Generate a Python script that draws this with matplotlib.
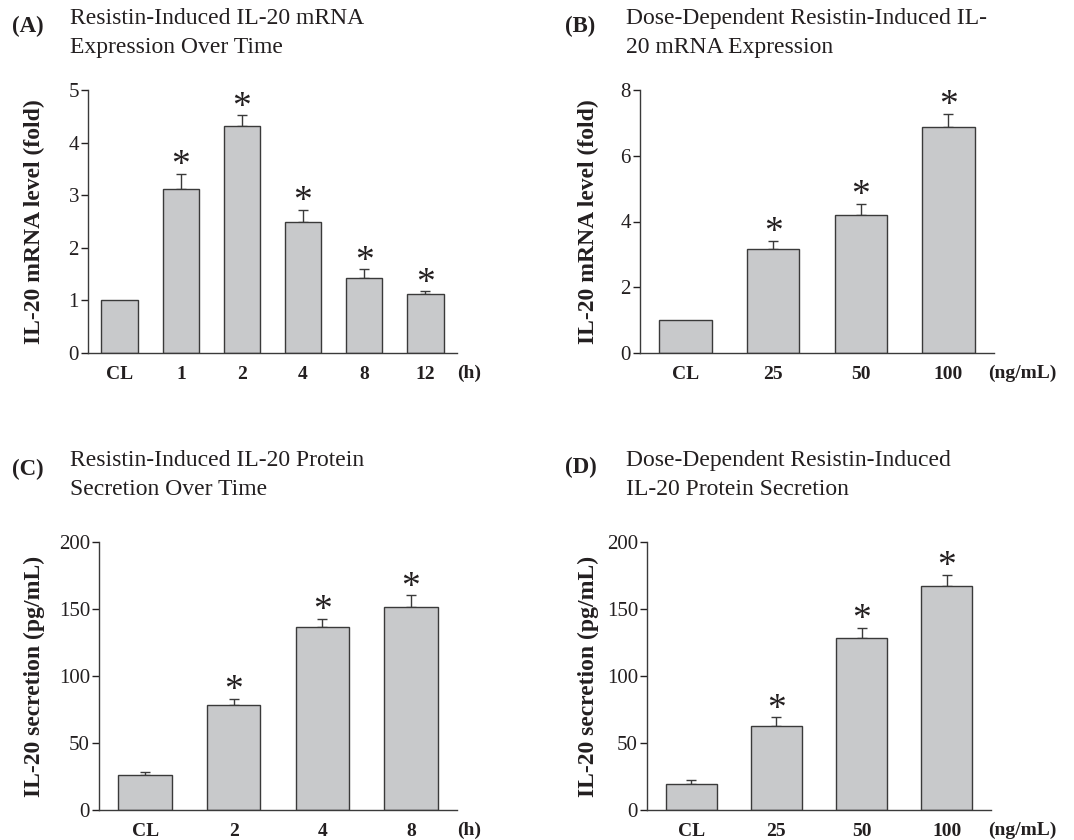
import matplotlib
matplotlib.use("Agg")
import matplotlib.pyplot as plt
import numpy as np

plt.rcParams["font.family"] = ["Liberation Serif", "DejaVu Serif"]
INK = "#231f20"

# --- data ---
a_labels = ["CL", "1", "2", "4", "8", "12"]
a_mean = [1.0, 3.11, 4.31, 2.50, 1.43, 1.12]
a_err = [0.0, 0.30, 0.21, 0.22, 0.16, 0.05]
a_sig = [False, True, True, True, True, True]

b_labels = ["CL", "25", "50", "100"]
b_mean = [1.0, 3.15, 4.21, 6.88]
b_err = [0.0, 0.26, 0.32, 0.40]
b_sig = [False, True, True, True]

c_labels = ["CL", "2", "4", "8"]
c_mean = [25.8, 78.7, 136.9, 151.6]
c_err = [2.8, 4.5, 5.7, 8.6]
c_sig = [False, True, True, True]

d_labels = ["CL", "25", "50", "100"]
d_mean = [19.6, 62.9, 128.0, 167.5]
d_err = [2.5, 6.2, 8.1, 8.2]
d_sig = [False, True, True, True]

W, H = 1074, 840
fig = plt.figure(figsize=(W / 100, H / 100), dpi=100)


def px(x, y):
    return x / W, 1 - y / H


def panel(rect, labels, mean, err, sig, ymax, step, letter, title, ylabel, unit,
          letter_xy, title_xy, ylab_x, unit_x):
    l, t, r, b = rect
    ax = fig.add_axes([l / W, 1 - b / H, (r - l) / W, (b - t) / H])
    x = np.arange(len(labels))
    ax.bar(x, mean, width=0.6, color="#c8c9cb", edgecolor="#3a3a3a", linewidth=1.0, zorder=2)
    for xi, m, e, s in zip(x, mean, err, sig):
        if e > 0:
            ax.errorbar(xi, m, yerr=[[0], [e]], fmt="none", ecolor="#3a3a3a",
                        elinewidth=1.0, capsize=3.5, capthick=1.0, zorder=1)
        if s:
            ax.annotate("*", (xi, m + e), xytext=(0, -1), textcoords="offset points",
                        ha="center", va="baseline", fontsize=27, color=INK)
    ax.set_xlim(-0.52, len(labels) - 0.48)
    ax.set_ylim(0, ymax)
    ax.set_yticks(np.arange(0, ymax + step / 2, step))
    ax.set_xticks(x)
    ax.set_xticklabels(labels, fontweight="bold", fontsize=14, color=INK)
    ax.tick_params(axis="x", length=0, pad=9)
    ax.tick_params(axis="y", length=5, width=1, pad=1.5, labelsize=15, colors=INK,
                   direction="out")
    for sp in ("top", "right"):
        ax.spines[sp].set_visible(False)
    for sp in ("left", "bottom"):
        ax.spines[sp].set_color("#3a3a3a")
        ax.spines[sp].set_linewidth(1.0)

    fig.text(*px(*letter_xy), letter, fontsize=16.5, fontweight="bold", va="center", color=INK)
    fig.text(*px(*title_xy), title, fontsize=17, va="center", linespacing=1.45, color=INK)
    fig.text(*px(ylab_x, (t + b) / 2), ylabel, rotation=90, fontsize=17, fontweight="bold",
             ha="center", va="center", color=INK)
    fig.text(*px(unit_x, b + 20), unit, fontsize=14, fontweight="bold", ha="center",
             va="center", color=INK)


panel((88, 90, 457, 353), a_labels, a_mean, a_err, a_sig, 5, 1, "(A)",
      "Resistin-Induced IL-20 mRNA\nExpression Over Time", "IL-20 mRNA level (fold)", "(h)",
      (12, 26), (70, 33), 34, 469)
panel((640, 90, 994, 353), b_labels, b_mean, b_err, b_sig, 8, 2, "(B)",
      "Dose-Dependent Resistin-Induced IL-\n20 mRNA Expression", "IL-20 mRNA level (fold)", "(ng/mL)",
      (565, 26), (626, 33), 588, 1022)
panel((99, 542, 457, 810), c_labels, c_mean, c_err, c_sig, 200, 50, "(C)",
      "Resistin-Induced IL-20 Protein\nSecretion Over Time", "IL-20 secretion (pg/mL)", "(h)",
      (12, 469), (70, 475), 34, 469)
panel((647, 542, 991, 810), d_labels, d_mean, d_err, d_sig, 200, 50, "(D)",
      "Dose-Dependent Resistin-Induced\nIL-20 Protein Secretion", "IL-20 secretion (pg/mL)", "(ng/mL)",
      (565, 467), (626, 475), 588, 1022)

fig.savefig("out.png", dpi=100)
